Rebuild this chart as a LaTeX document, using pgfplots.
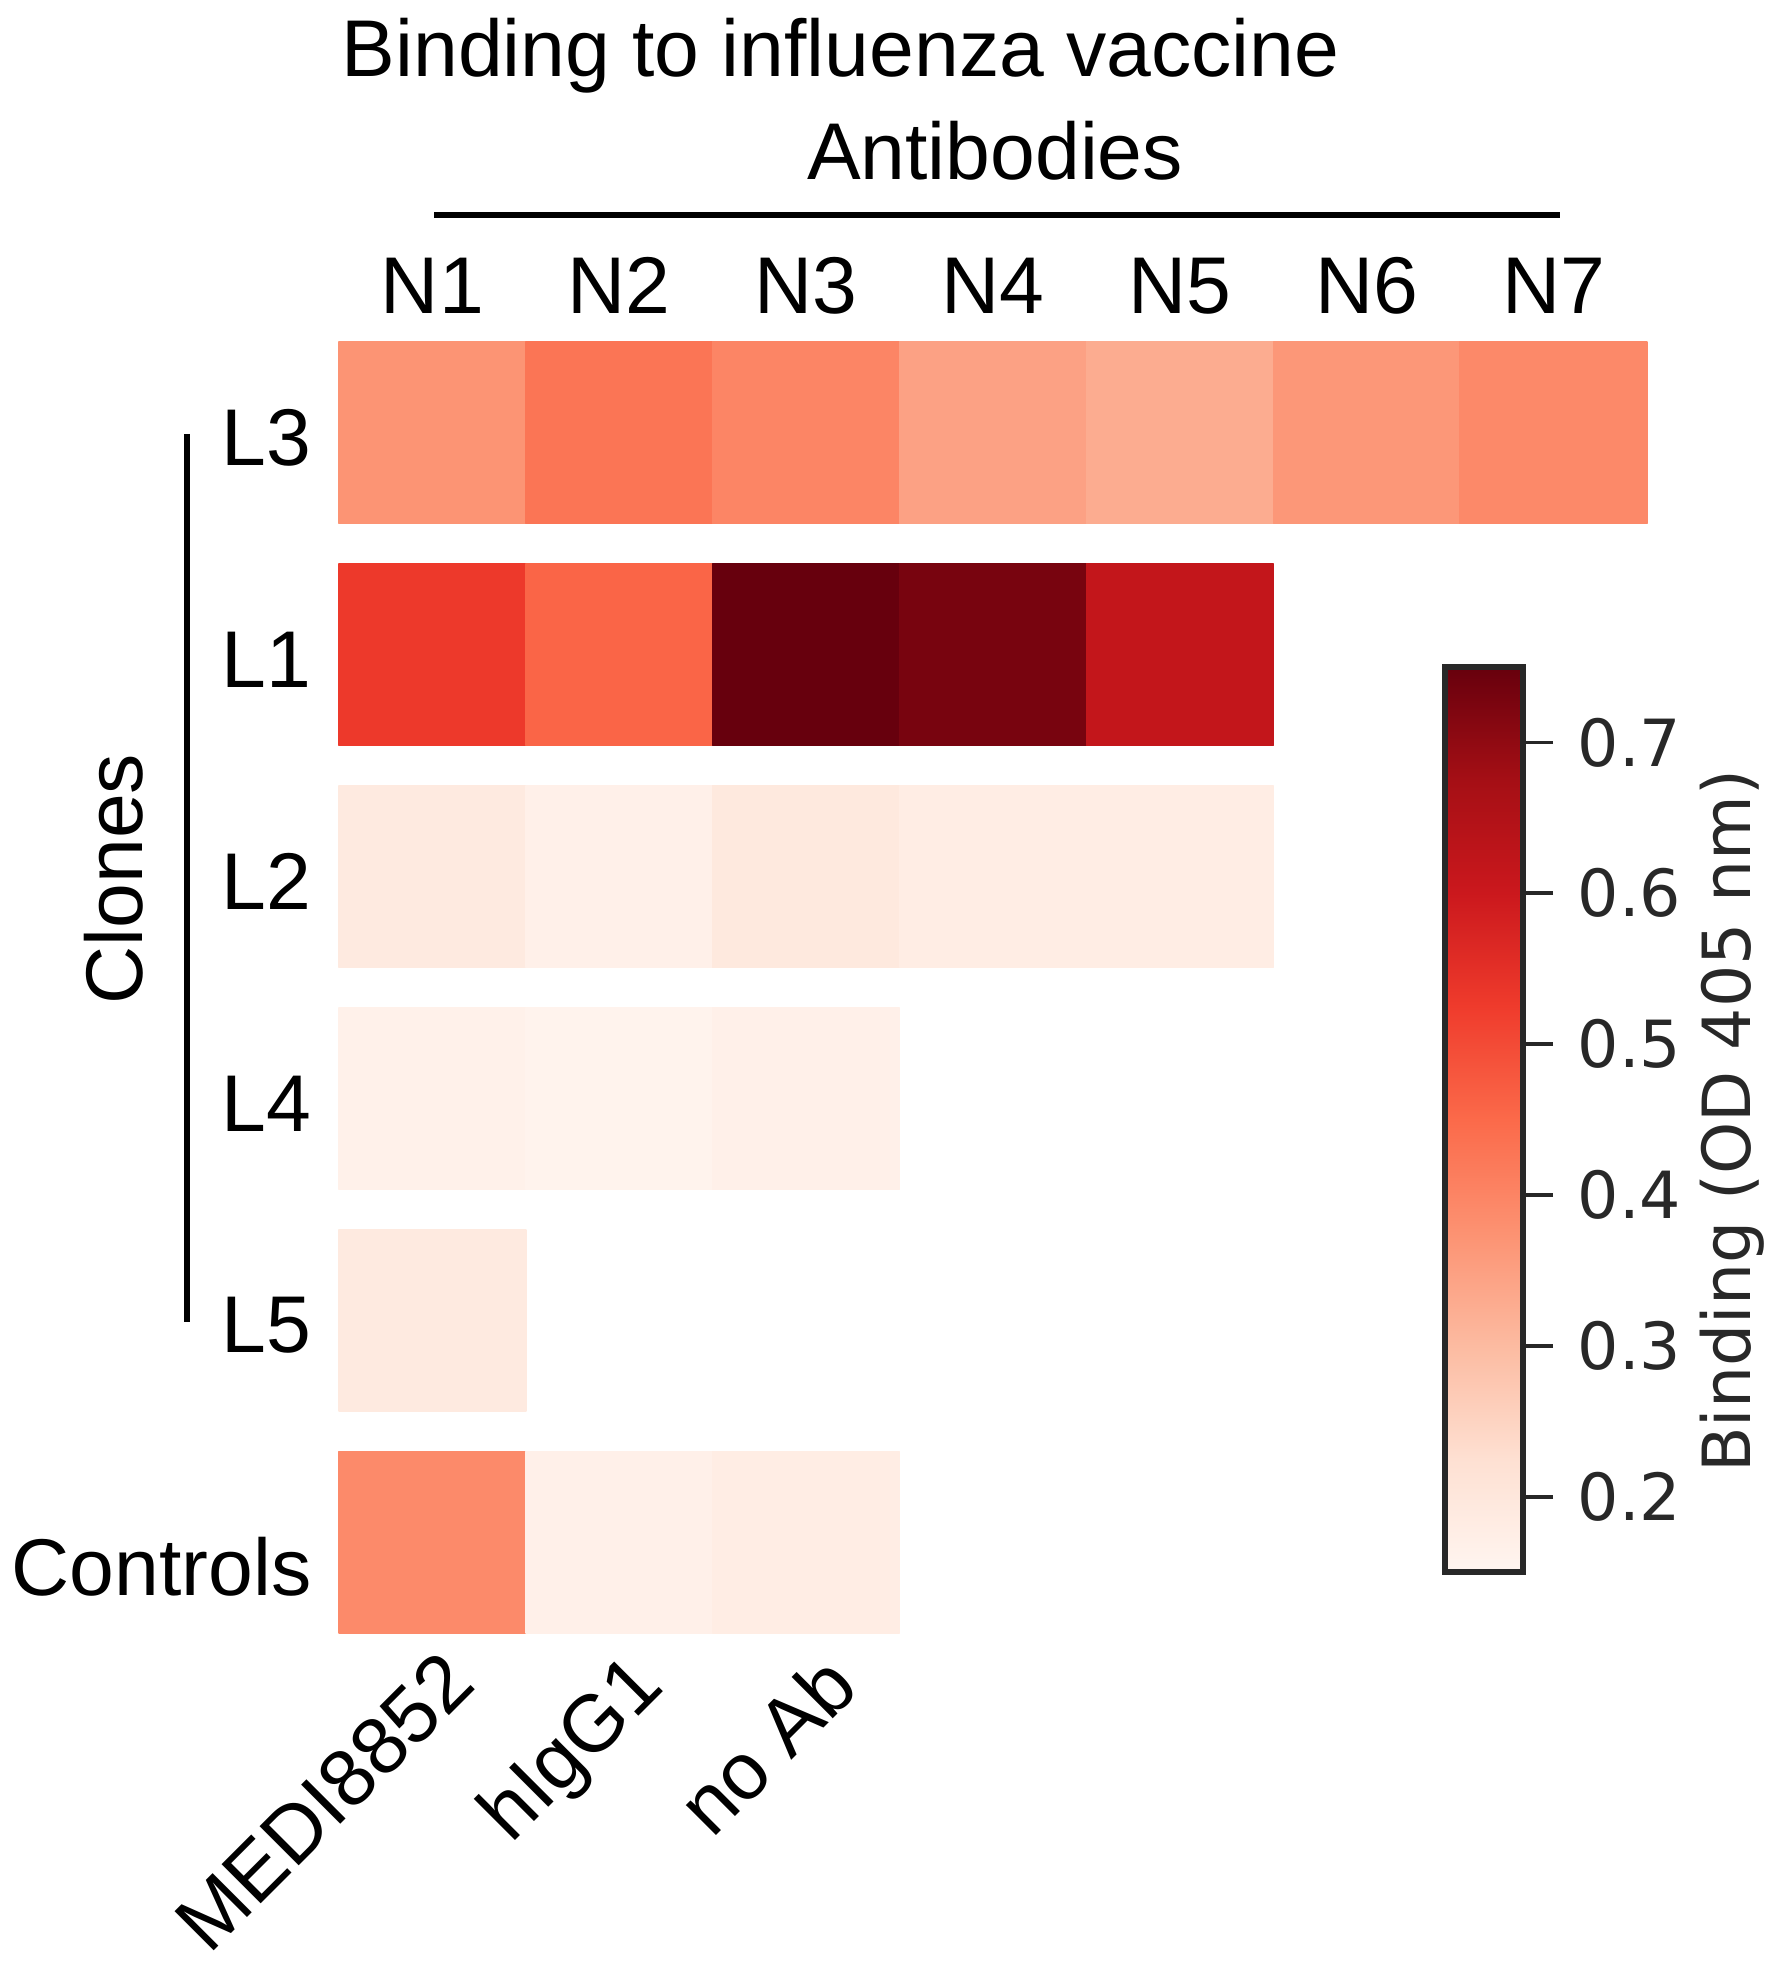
\documentclass[border=0pt]{standalone}
\usepackage{fontspec}
\setmainfont{Liberation Sans}
\newfontfamily\cbfont{DejaVu Sans}
\usepackage{pgfplots}
\pgfplotsset{compat=1.18}
\pgfplotsset{colormap={reds}{rgb255=(255,245,240) rgb255=(254,224,210) rgb255=(252,187,161) rgb255=(252,146,114) rgb255=(251,106,74) rgb255=(239,59,44) rgb255=(203,24,29) rgb255=(165,15,21) rgb255=(103,0,13)}}
\definecolor{cbgray}{RGB}{40,40,40}
\begin{document}
\begin{tikzpicture}[font=\fontsize{22.9}{27}\selectfont]
\path[use as bounding box] (0,0) rectangle (17.84,-19.84);
\begin{axis}[
  at={(3.39cm,-16.33cm)}, anchor=south west,
  scale only axis, width=13.08cm, height=12.908cm,
  xmin=0, xmax=7, ymin=0, ymax=5.817,
  hide axis, clip=false,
  colormap name=reds,
  point meta min=0.15, point meta max=0.75,
]
\addplot[patch, patch type=rectangle, shader=flat, point meta=explicit]
table[meta=c] {
x y c
0 5 0.372
1 5 0.372
1 5.817 0.372
0 5.817 0.372
1 5 0.430
2 5 0.430
2 5.817 0.430
1 5.817 0.430
2 5 0.400
3 5 0.400
3 5.817 0.400
2 5.817 0.400
3 5 0.347
4 5 0.347
4 5.817 0.347
3 5.817 0.347
4 5 0.328
5 5 0.328
5 5.817 0.328
4 5.817 0.328
5 5 0.366
6 5 0.366
6 5.817 0.366
5 5.817 0.366
6 5 0.392
7 5 0.392
7 5.817 0.392
6 5.817 0.392
0 4 0.530
1 4 0.530
1 4.817 0.530
0 4.817 0.530
1 4 0.458
2 4 0.458
2 4.817 0.458
1 4.817 0.458
2 4 0.750
3 4 0.750
3 4.817 0.750
2 4.817 0.750
3 4 0.730
4 4 0.730
4 4.817 0.730
3 4.817 0.730
4 4 0.616
5 4 0.616
5 4.817 0.616
4 4.817 0.616
0 3 0.190
1 3 0.190
1 3.817 0.190
0 3.817 0.190
1 3 0.168
2 3 0.168
2 3.817 0.168
1 3.817 0.168
2 3 0.194
3 3 0.194
3 3.817 0.194
2 3.817 0.194
3 3 0.179
4 3 0.179
4 3.817 0.179
3 3.817 0.179
4 3 0.179
5 3 0.179
5 3.817 0.179
4 3.817 0.179
0 2 0.164
1 2 0.164
1 2.817 0.164
0 2.817 0.164
1 2 0.158
2 2 0.158
2 2.817 0.158
1 2.817 0.158
2 2 0.168
3 2 0.168
3 2.817 0.168
2 2.817 0.168
0 1 0.189
1 1 0.189
1 1.817 0.189
0 1.817 0.189
0 0 0.390
1 0 0.390
1 0.817 0.390
0 0.817 0.390
1 0 0.168
2 0 0.168
2 0.817 0.168
1 0.817 0.168
2 0 0.180
3 0 0.180
3 0.817 0.180
2 0.817 0.180
};
\node[anchor=base, yshift=0.29cm] at (axis cs:0.5,5.817) {N1};
\node[anchor=base, yshift=0.29cm] at (axis cs:1.5,5.817) {N2};
\node[anchor=base, yshift=0.29cm] at (axis cs:2.5,5.817) {N3};
\node[anchor=base, yshift=0.29cm] at (axis cs:3.5,5.817) {N4};
\node[anchor=base, yshift=0.29cm] at (axis cs:4.5,5.817) {N5};
\node[anchor=base, yshift=0.29cm] at (axis cs:5.5,5.817) {N6};
\node[anchor=base, yshift=0.29cm] at (axis cs:6.5,5.817) {N7};
\node[anchor=east, inner sep=0pt, xshift=-0.27cm, yshift=-0.05cm] at (axis cs:0,5.4085) {L3};
\node[anchor=east, inner sep=0pt, xshift=-0.27cm, yshift=-0.05cm] at (axis cs:0,4.4085) {L1};
\node[anchor=east, inner sep=0pt, xshift=-0.27cm, yshift=-0.05cm] at (axis cs:0,3.4085) {L2};
\node[anchor=east, inner sep=0pt, xshift=-0.27cm, yshift=-0.05cm] at (axis cs:0,2.4085) {L4};
\node[anchor=east, inner sep=0pt, xshift=-0.27cm, yshift=-0.05cm] at (axis cs:0,1.4085) {L5};
\node[anchor=east, inner sep=0pt, xshift=-0.27cm, yshift=-0.24cm] at (axis cs:0,0.4085) {Controls};
\node[xshift=0.06cm, yshift=-0.13cm, rotate=45, anchor=north east, inner sep=0pt] at (axis cs:0.5,0) {MEDI8852};
\node[xshift=0.06cm, yshift=-0.14cm, rotate=45, anchor=north east, inner sep=0pt] at (axis cs:1.5,0) {hIgG1};
\node[xshift=0.14cm, yshift=-0.16cm, rotate=45, anchor=north east, inner sep=0pt] at (axis cs:2.5,0) {no Ab};
\end{axis}
\begin{axis}[
  at={(14.45cm,-15.72cm)}, anchor=south west,
  scale only axis, width=0.78cm, height=9.05cm,
  xmin=0, xmax=1, ymin=0.15, ymax=0.75,
  colormap name=reds,
  point meta min=0.15, point meta max=0.75,
  axis on top,
  xtick=\empty,
  ytick={0.2,0.3,0.4,0.5,0.6,0.7},
  yticklabels={0.2,0.3,0.4,0.5,0.6,0.7},
  yticklabel style={font=\cbfont\fontsize{18.5}{22}\selectfont, inner sep=0pt, anchor=west, xshift=0.24cm, text=cbgray},
  tick align=outside, major tick length=0.3cm,
  ytick pos=right, yticklabel pos=right,
  axis line style={line width=1.5pt, draw=cbgray},
  ytick style={line width=1.1pt, draw=cbgray},
]
\addplot[surf, shader=interp, point meta=y, mesh/cols=2] table {
x y
0 0.150
1 0.150
0 0.225
1 0.225
0 0.300
1 0.300
0 0.375
1 0.375
0 0.450
1 0.450
0 0.525
1 0.525
0 0.600
1 0.600
0 0.675
1 0.675
0 0.750
1 0.750
};
\end{axis}
\node[anchor=base west, inner sep=0pt] at (3.41,-0.77) {Binding to influenza vaccine};
\node[anchor=base, inner sep=0pt] at (9.95,-1.80) {Antibodies};
\draw[line width=0.065cm] (4.34,-2.15) -- (15.60,-2.15);
\draw[line width=0.065cm] (1.87,-4.34) -- (1.87,-13.22);
\node[rotate=90, anchor=center, inner sep=0pt] at (1.14,-8.79) {Clones};
\node[rotate=90, anchor=base, inner sep=0pt, font=\cbfont\fontsize{18.9}{22}\selectfont, text=cbgray] at (17.50,-11.21) {Binding (OD 405 nm)};
\end{tikzpicture}
\end{document}
